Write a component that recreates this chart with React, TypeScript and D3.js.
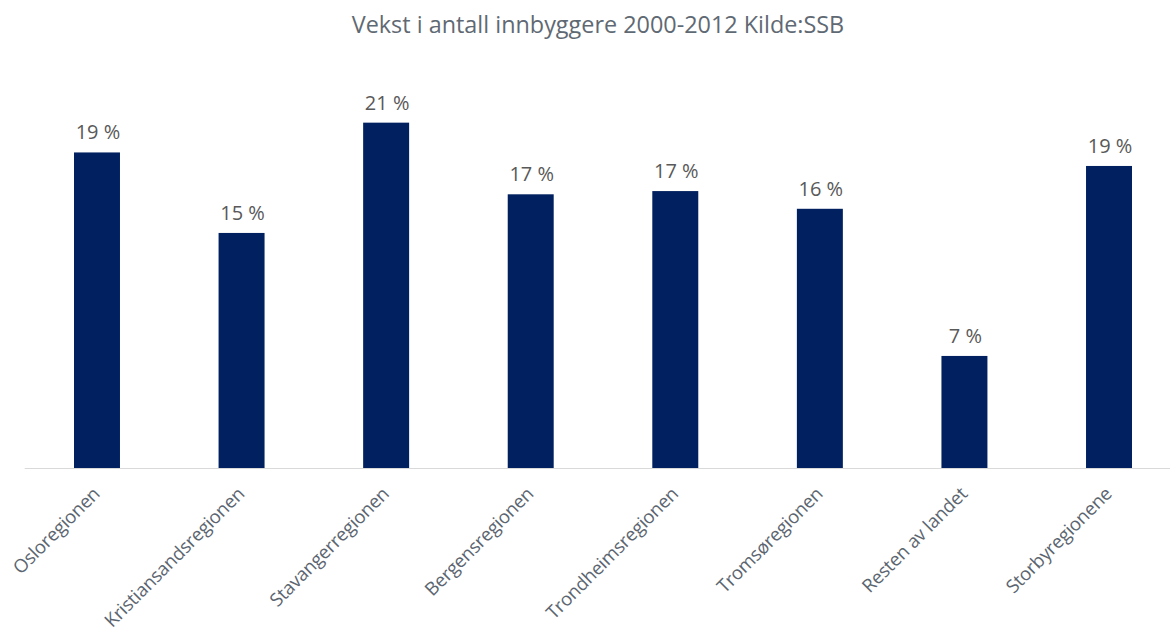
import React from "react";
import * as d3 from "d3";

const categories = [
  "Osloregionen",
  "Kristiansandsregionen",
  "Stavangerregionen",
  "Bergensregionen",
  "Trondheimsregionen",
  "Tromsøregionen",
  "Resten av landet",
  "Storbyregionene",
];
const growthPct = [19.6, 14.6, 21.45, 17.0, 17.2, 16.1, 6.96, 18.76];
const valueLabels = ["19 %", "15 %", "21 %", "17 %", "17 %", "16 %", "7 %", "19 %"];
const yDomain = [0, 25];
const title = "Vekst i antall innbyggere 2000-2012 Kilde:SSB";

const W = 1170;
const H = 639;

export default function App() {
  const baseline = 468;
  const x = d3
    .scaleBand<string>()
    .domain(categories)
    .range([24.7, 1181.3])
    .paddingInner(0.682)
    .paddingOuter(0.341);
  const y = d3.scaleLinear().domain(yDomain).range([baseline, 65.5]);
  const font = "'Open Sans', 'Noto Sans', sans-serif";

  return (
    <svg
      width={W}
      height={H}
      style={{ position: "absolute", left: 0, top: 0, background: "#fff" }}
    >
      <text
        x={598}
        y={33}
        textAnchor="middle"
        fontFamily={font}
        fontSize={23.4}
        fill="#5f6973"
      >
        {title}
      </text>
      {categories.map((c, i) => {
        const bx = x(c)!;
        const v = growthPct[i];
        return (
          <g key={c}>
            <rect
              x={bx}
              y={y(v)}
              width={x.bandwidth()}
              height={baseline - y(v)}
              fill="#002060"
            />
            <text
              x={bx + x.bandwidth() / 2 + 1}
              y={y(v) - 13}
              textAnchor="middle"
              fontFamily={font}
              fontSize={20}
              fill="#595959"
            >
              {valueLabels[i]}
            </text>
            <text
              transform={`translate(${bx + x.bandwidth() / 2 + 4},${baseline + 27}) rotate(-45)`}
              textAnchor="end"
              fontFamily={font}
              fontSize={18.5}
              letterSpacing={-0.2}
              fill="#5b6570"
            >
              {c}
            </text>
          </g>
        );
      })}
      <line
        x1={24.7}
        x2={W}
        y1={baseline + 0.5}
        y2={baseline + 0.5}
        stroke="#d9d9d9"
        strokeWidth={1}
      />
    </svg>
  );
}
